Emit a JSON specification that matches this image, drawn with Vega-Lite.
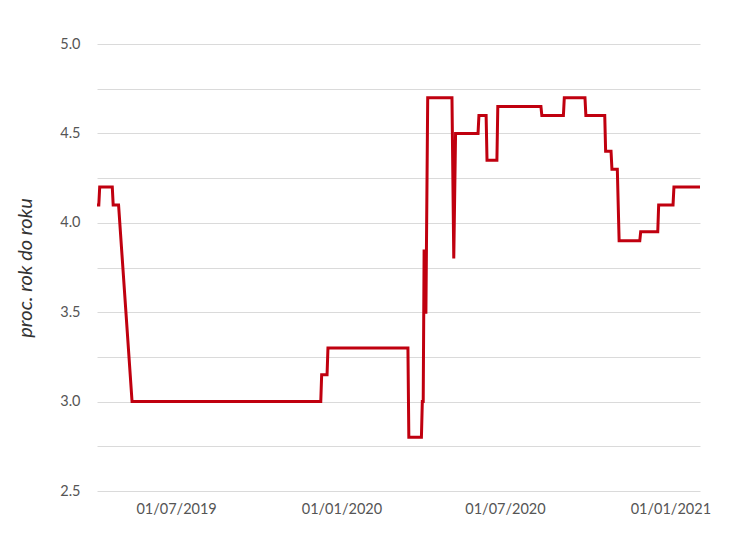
{
  "$schema": "https://vega.github.io/schema/vega-lite/v6.json",
  "width": 603,
  "height": 447,
  "autosize": {"type": "none"},
  "padding": {"left": 97, "top": 44, "right": 39, "bottom": 52},
  "background": "white",
  "config": {
    "view": {"stroke": null},
    "font": "Lato",
    "axis": {"labelFont": "Lato", "titleFont": "Lato"}
  },
  "data": {
    "values": [
      {"date": "2019-04-04", "v": 4.1},
      {"date": "2019-04-06", "v": 4.1},
      {"date": "2019-04-07", "v": 4.2},
      {"date": "2019-04-21", "v": 4.2},
      {"date": "2019-04-22", "v": 4.1},
      {"date": "2019-04-28", "v": 4.1},
      {"date": "2019-05-13", "v": 3.0},
      {"date": "2019-12-09", "v": 3.0},
      {"date": "2019-12-10", "v": 3.15},
      {"date": "2019-12-16", "v": 3.15},
      {"date": "2019-12-17", "v": 3.3},
      {"date": "2020-03-15", "v": 3.3},
      {"date": "2020-03-16", "v": 2.8},
      {"date": "2020-03-30", "v": 2.8},
      {"date": "2020-03-31", "v": 3.0},
      {"date": "2020-04-01", "v": 3.0},
      {"date": "2020-04-02", "v": 3.85},
      {"date": "2020-04-03", "v": 3.5},
      {"date": "2020-04-04", "v": 3.5},
      {"date": "2020-04-06", "v": 4.7},
      {"date": "2020-05-03", "v": 4.7},
      {"date": "2020-05-05", "v": 3.8},
      {"date": "2020-05-07", "v": 4.5},
      {"date": "2020-06-01", "v": 4.5},
      {"date": "2020-06-02", "v": 4.6},
      {"date": "2020-06-10", "v": 4.6},
      {"date": "2020-06-11", "v": 4.35},
      {"date": "2020-06-22", "v": 4.35},
      {"date": "2020-06-23", "v": 4.65},
      {"date": "2020-08-10", "v": 4.65},
      {"date": "2020-08-11", "v": 4.6},
      {"date": "2020-09-04", "v": 4.6},
      {"date": "2020-09-05", "v": 4.7},
      {"date": "2020-09-28", "v": 4.7},
      {"date": "2020-09-29", "v": 4.6},
      {"date": "2020-10-20", "v": 4.6},
      {"date": "2020-10-21", "v": 4.4},
      {"date": "2020-10-27", "v": 4.4},
      {"date": "2020-10-28", "v": 4.3},
      {"date": "2020-11-03", "v": 4.3},
      {"date": "2020-11-05", "v": 3.9},
      {"date": "2020-11-28", "v": 3.9},
      {"date": "2020-11-29", "v": 3.95},
      {"date": "2020-12-18", "v": 3.95},
      {"date": "2020-12-19", "v": 4.1},
      {"date": "2021-01-04", "v": 4.1},
      {"date": "2021-01-05", "v": 4.2},
      {"date": "2021-02-03", "v": 4.2}
    ]
  },
  "mark": {"type": "line", "color": "#c0000f", "strokeWidth": 3, "strokeJoin": "miter", "clip": true},
  "encoding": {
    "x": {
      "field": "date",
      "type": "temporal",
      "scale": {
        "type": "utc",
        "nice": false,
        "domain": [
          {"year": 2019, "month": 4, "date": 4, "utc": true},
          {"year": 2021, "month": 2, "date": 3, "utc": true}
        ]
      },
      "axis": {
        "title": null,
        "values": [
          {"year": 2019, "month": 7, "date": 1, "utc": true},
          {"year": 2020, "month": 1, "date": 1, "utc": true},
          {"year": 2020, "month": 7, "date": 1, "utc": true},
          {"year": 2021, "month": 1, "date": 1, "utc": true}
        ],
        "labelExpr": "utcFormat(datum.value, '%d/%m/%Y')",
        "grid": false,
        "domain": false,
        "ticks": false,
        "labelPadding": 11,
        "labelFontSize": 14.5,
        "labelColor": "#555555",
        "labelFlush": false
      }
    },
    "y": {
      "field": "v",
      "type": "quantitative",
      "scale": {"domain": [2.5, 5.0], "nice": false, "zero": false},
      "axis": {
        "title": "proc. rok do roku",
        "titleFontSize": 20,
        "titleFontStyle": "italic",
        "titleFontWeight": "normal",
        "titleColor": "#333333",
        "titlePadding": 24,
        "values": [2.5, 2.75, 3.0, 3.25, 3.5, 3.75, 4.0, 4.25, 4.5, 4.75, 5.0],
        "labelExpr": "abs(datum.value * 2 - round(datum.value * 2)) < 0.001 ? format(datum.value, '.1f') : ''",
        "grid": true,
        "gridColor": "#dadada",
        "gridWidth": 1,
        "domain": false,
        "ticks": false,
        "labelPadding": 17,
        "labelFontSize": 14.5,
        "labelColor": "#555555"
      }
    }
  }
}
